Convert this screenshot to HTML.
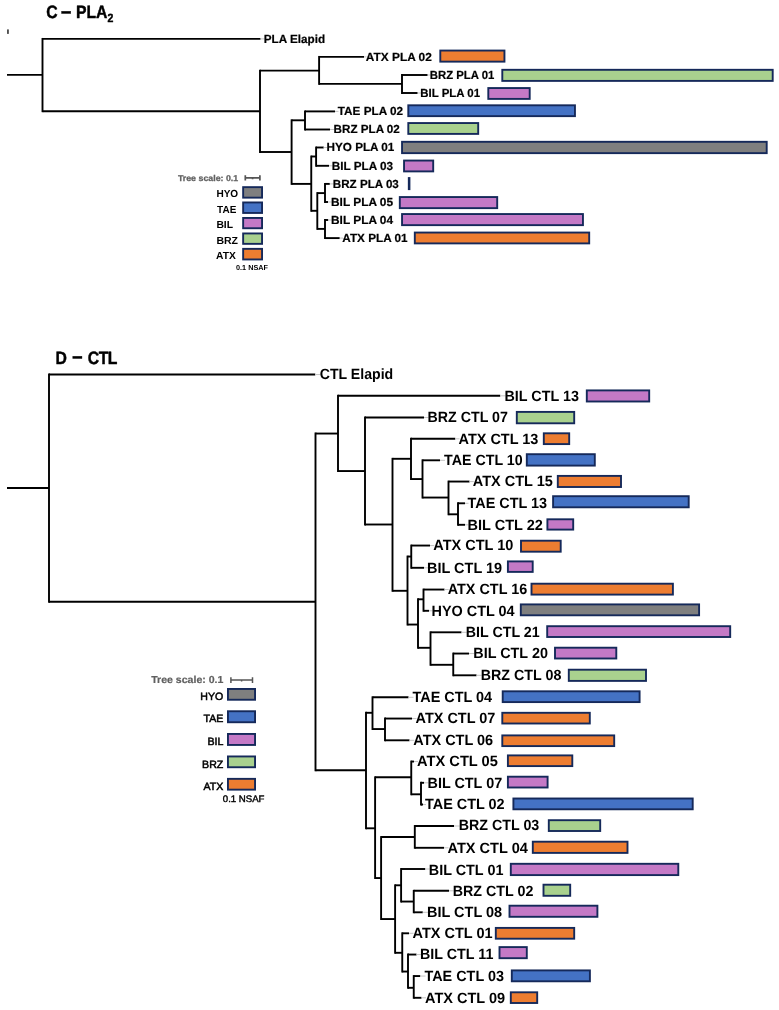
<!DOCTYPE html>
<html lang="en">
<head>
<meta charset="utf-8">
<title>Phylogenetic trees: PLA2 and CTL</title>
<style>
html,body{margin:0;padding:0;background:#fff;}
body{width:779px;height:1010px;overflow:hidden;font-family:"Liberation Sans", sans-serif;}
svg{display:block;}
</style>
</head>
<body>
<svg width="779" height="1010" viewBox="0 0 779 1010">
<rect width="779" height="1010" fill="#fff"/>
<g fill="none" stroke="#000" stroke-linecap="square">
<path d="M7.00 74.90H42.50" stroke-width="1.9" stroke-linecap="butt"/>
<path d="M42.50 38.90H260.50" stroke-width="1.9" stroke-linecap="butt"/>
<path d="M42.50 111.20H260.00" stroke-width="1.9" stroke-linecap="butt"/>
<path d="M260.00 70.60H319.10" stroke-width="1.9" stroke-linecap="butt"/>
<path d="M319.10 56.90H364.00" stroke-width="1.9" stroke-linecap="butt"/>
<path d="M319.10 83.90H402.00" stroke-width="1.9" stroke-linecap="butt"/>
<path d="M402.00 75.00H427.60" stroke-width="1.9" stroke-linecap="butt"/>
<path d="M402.00 93.00H417.60" stroke-width="1.9" stroke-linecap="butt"/>
<path d="M260.00 152.00H291.60" stroke-width="1.9" stroke-linecap="butt"/>
<path d="M291.60 120.30H305.00" stroke-width="1.9" stroke-linecap="butt"/>
<path d="M305.00 111.40H335.00" stroke-width="1.9" stroke-linecap="butt"/>
<path d="M305.00 129.50H330.00" stroke-width="1.9" stroke-linecap="butt"/>
<path d="M291.60 183.90H311.25" stroke-width="1.9" stroke-linecap="butt"/>
<path d="M311.25 156.50H316.10" stroke-width="1.9" stroke-linecap="butt"/>
<path d="M316.10 147.50H323.70" stroke-width="1.9" stroke-linecap="butt"/>
<path d="M316.10 165.80H329.00" stroke-width="1.9" stroke-linecap="butt"/>
<path d="M311.25 210.80H317.30" stroke-width="1.9" stroke-linecap="butt"/>
<path d="M317.30 193.10H325.00" stroke-width="1.9" stroke-linecap="butt"/>
<path d="M325.00 183.90H329.80" stroke-width="1.9" stroke-linecap="butt"/>
<path d="M325.00 202.00H328.00" stroke-width="1.9" stroke-linecap="butt"/>
<path d="M317.30 228.90H325.00" stroke-width="1.9" stroke-linecap="butt"/>
<path d="M325.00 220.00H328.20" stroke-width="1.9" stroke-linecap="butt"/>
<path d="M325.00 238.10H339.70" stroke-width="1.9" stroke-linecap="butt"/>
<path d="M42.50 38.90V111.20" stroke-width="1.9"/>
<path d="M260.00 70.60V152.00" stroke-width="1.9"/>
<path d="M319.10 56.90V83.90" stroke-width="1.9"/>
<path d="M402.00 75.00V93.00" stroke-width="1.9"/>
<path d="M291.60 120.30V183.90" stroke-width="1.9"/>
<path d="M305.00 111.40V129.50" stroke-width="1.9"/>
<path d="M311.25 156.50V210.80" stroke-width="1.9"/>
<path d="M316.10 147.50V165.80" stroke-width="1.9"/>
<path d="M317.30 193.10V228.90" stroke-width="1.9"/>
<path d="M325.00 183.90V202.00" stroke-width="1.9"/>
<path d="M325.00 220.00V238.10" stroke-width="1.9"/>
<path d="M7.00 488.05H49.00" stroke-width="1.9" stroke-linecap="butt"/>
<path d="M49.00 374.55H315.25" stroke-width="1.9" stroke-linecap="butt"/>
<path d="M49.00 601.80H315.50" stroke-width="1.9" stroke-linecap="butt"/>
<path d="M315.50 433.55H338.00" stroke-width="1.9" stroke-linecap="butt"/>
<path d="M338.00 395.80H500.25" stroke-width="1.9" stroke-linecap="butt"/>
<path d="M338.00 471.05H365.00" stroke-width="1.9" stroke-linecap="butt"/>
<path d="M365.00 417.50H424.00" stroke-width="1.9" stroke-linecap="butt"/>
<path d="M365.00 524.50H392.50" stroke-width="1.9" stroke-linecap="butt"/>
<path d="M392.50 458.80H411.00" stroke-width="1.9" stroke-linecap="butt"/>
<path d="M411.00 438.80H455.25" stroke-width="1.9" stroke-linecap="butt"/>
<path d="M411.00 479.05H422.50" stroke-width="1.9" stroke-linecap="butt"/>
<path d="M422.50 460.30H440.00" stroke-width="1.9" stroke-linecap="butt"/>
<path d="M422.50 497.55H448.50" stroke-width="1.9" stroke-linecap="butt"/>
<path d="M448.50 481.55H469.50" stroke-width="1.9" stroke-linecap="butt"/>
<path d="M448.50 514.30H458.00" stroke-width="1.9" stroke-linecap="butt"/>
<path d="M458.00 503.30H465.00" stroke-width="1.9" stroke-linecap="butt"/>
<path d="M458.00 524.80H465.00" stroke-width="1.9" stroke-linecap="butt"/>
<path d="M392.50 590.80H407.50" stroke-width="1.9" stroke-linecap="butt"/>
<path d="M407.50 556.55H411.25" stroke-width="1.9" stroke-linecap="butt"/>
<path d="M411.25 545.55H430.00" stroke-width="1.9" stroke-linecap="butt"/>
<path d="M411.25 567.80H424.00" stroke-width="1.9" stroke-linecap="butt"/>
<path d="M407.50 624.55H418.00" stroke-width="1.9" stroke-linecap="butt"/>
<path d="M418.00 599.30H423.50" stroke-width="1.9" stroke-linecap="butt"/>
<path d="M423.50 589.55H444.50" stroke-width="1.9" stroke-linecap="butt"/>
<path d="M423.50 610.80H429.00" stroke-width="1.9" stroke-linecap="butt"/>
<path d="M418.00 647.80H430.50" stroke-width="1.9" stroke-linecap="butt"/>
<path d="M430.50 632.30H461.50" stroke-width="1.9" stroke-linecap="butt"/>
<path d="M430.50 664.80H453.25" stroke-width="1.9" stroke-linecap="butt"/>
<path d="M453.25 653.55H469.00" stroke-width="1.9" stroke-linecap="butt"/>
<path d="M453.25 675.30H476.50" stroke-width="1.9" stroke-linecap="butt"/>
<path d="M315.50 770.30H366.00" stroke-width="1.9" stroke-linecap="butt"/>
<path d="M366.00 712.80H372.50" stroke-width="1.9" stroke-linecap="butt"/>
<path d="M372.50 697.30H408.50" stroke-width="1.9" stroke-linecap="butt"/>
<path d="M372.50 729.05H385.00" stroke-width="1.9" stroke-linecap="butt"/>
<path d="M385.00 718.55H412.00" stroke-width="1.9" stroke-linecap="butt"/>
<path d="M385.00 740.30H409.50" stroke-width="1.9" stroke-linecap="butt"/>
<path d="M366.00 828.30H375.10" stroke-width="1.9" stroke-linecap="butt"/>
<path d="M375.10 777.30H411.25" stroke-width="1.9" stroke-linecap="butt"/>
<path d="M411.25 761.55H414.00" stroke-width="1.9" stroke-linecap="butt"/>
<path d="M411.25 794.30H421.00" stroke-width="1.9" stroke-linecap="butt"/>
<path d="M421.00 782.80H424.00" stroke-width="1.9" stroke-linecap="butt"/>
<path d="M421.00 804.55H423.00" stroke-width="1.9" stroke-linecap="butt"/>
<path d="M375.10 878.05H381.10" stroke-width="1.9" stroke-linecap="butt"/>
<path d="M381.10 837.05H414.80" stroke-width="1.9" stroke-linecap="butt"/>
<path d="M414.80 826.00H454.00" stroke-width="1.9" stroke-linecap="butt"/>
<path d="M414.80 847.80H444.00" stroke-width="1.9" stroke-linecap="butt"/>
<path d="M381.10 919.05H395.10" stroke-width="1.9" stroke-linecap="butt"/>
<path d="M395.10 885.30H401.10" stroke-width="1.9" stroke-linecap="butt"/>
<path d="M401.10 869.00H425.25" stroke-width="1.9" stroke-linecap="butt"/>
<path d="M401.10 901.55H413.75" stroke-width="1.9" stroke-linecap="butt"/>
<path d="M413.75 890.80H449.00" stroke-width="1.9" stroke-linecap="butt"/>
<path d="M413.75 912.30H422.75" stroke-width="1.9" stroke-linecap="butt"/>
<path d="M395.10 952.80H402.25" stroke-width="1.9" stroke-linecap="butt"/>
<path d="M402.25 933.30H409.00" stroke-width="1.9" stroke-linecap="butt"/>
<path d="M402.25 971.55H408.00" stroke-width="1.9" stroke-linecap="butt"/>
<path d="M408.00 954.55H416.50" stroke-width="1.9" stroke-linecap="butt"/>
<path d="M408.00 987.80H413.75" stroke-width="1.9" stroke-linecap="butt"/>
<path d="M413.75 976.05H420.25" stroke-width="1.9" stroke-linecap="butt"/>
<path d="M413.75 997.80H421.50" stroke-width="1.9" stroke-linecap="butt"/>
<path d="M49.00 374.55V601.80" stroke-width="1.9"/>
<path d="M315.50 433.55V770.30" stroke-width="1.9"/>
<path d="M338.00 395.80V471.05" stroke-width="1.9"/>
<path d="M365.00 417.50V524.50" stroke-width="1.9"/>
<path d="M392.50 458.80V590.80" stroke-width="1.9"/>
<path d="M411.00 438.80V479.05" stroke-width="1.9"/>
<path d="M422.50 460.30V497.55" stroke-width="1.9"/>
<path d="M448.50 481.55V514.30" stroke-width="1.9"/>
<path d="M458.00 503.30V524.80" stroke-width="1.9"/>
<path d="M407.50 556.55V624.55" stroke-width="1.9"/>
<path d="M411.25 545.55V567.80" stroke-width="1.9"/>
<path d="M418.00 599.30V647.80" stroke-width="1.9"/>
<path d="M423.50 589.55V610.80" stroke-width="1.9"/>
<path d="M430.50 632.30V664.80" stroke-width="1.9"/>
<path d="M453.25 653.55V675.30" stroke-width="1.9"/>
<path d="M366.00 712.80V828.30" stroke-width="1.9"/>
<path d="M372.50 697.30V729.05" stroke-width="1.9"/>
<path d="M385.00 718.55V740.30" stroke-width="1.9"/>
<path d="M375.10 777.30V878.05" stroke-width="1.9"/>
<path d="M411.25 761.55V794.30" stroke-width="1.9"/>
<path d="M421.00 782.80V804.55" stroke-width="1.9"/>
<path d="M381.10 837.05V919.05" stroke-width="1.9"/>
<path d="M414.80 826.00V847.80" stroke-width="1.9"/>
<path d="M395.10 885.30V952.80" stroke-width="1.9"/>
<path d="M401.10 869.00V901.55" stroke-width="1.9"/>
<path d="M413.75 890.80V912.30" stroke-width="1.9"/>
<path d="M402.25 933.30V971.55" stroke-width="1.9"/>
<path d="M408.00 954.55V987.80" stroke-width="1.9"/>
<path d="M413.75 976.05V997.80" stroke-width="1.9"/>
</g>
<g fill="none" stroke="#c4c4c4" stroke-width="1">
<path d="M260.50 38.90H264.50"/>
<path d="M364.00 56.90H366.50"/>
<path d="M427.60 75.00H430.50"/>
<path d="M417.60 93.00H421.00"/>
<path d="M335.00 111.40H338.50"/>
<path d="M330.00 129.50H334.25"/>
<path d="M323.70 147.50H327.25"/>
<path d="M329.00 165.80H332.50"/>
<path d="M329.80 183.90H333.50"/>
<path d="M328.00 202.00H331.70"/>
<path d="M328.20 220.00H331.70"/>
<path d="M339.70 238.10H343.00"/>
<path d="M315.25 374.55H320.70"/>
<path d="M500.25 395.80H505.50"/>
<path d="M424.00 417.50H428.50"/>
<path d="M455.25 438.80H459.50"/>
<path d="M440.00 460.30H445.00"/>
<path d="M469.50 481.55H473.75"/>
<path d="M465.00 503.30H468.50"/>
<path d="M465.00 524.80H468.50"/>
<path d="M430.00 545.55H434.25"/>
<path d="M424.00 567.80H428.00"/>
<path d="M444.50 589.55H448.75"/>
<path d="M429.00 610.80H432.50"/>
<path d="M461.50 632.30H466.75"/>
<path d="M469.00 653.55H474.25"/>
<path d="M476.50 675.30H481.75"/>
<path d="M408.50 697.30H413.50"/>
<path d="M412.00 718.55H416.50"/>
<path d="M409.50 740.30H414.25"/>
<path d="M414.00 761.55H418.00"/>
<path d="M424.00 782.80H428.50"/>
<path d="M423.00 804.55H426.00"/>
<path d="M454.00 826.00H459.75"/>
<path d="M444.00 847.80H448.50"/>
<path d="M425.25 869.00H429.75"/>
<path d="M449.00 890.80H453.75"/>
<path d="M422.75 912.30H428.00"/>
<path d="M409.00 933.30H413.50"/>
<path d="M416.50 954.55H421.00"/>
<path d="M420.25 976.05H425.50"/>
<path d="M421.50 997.80H426.00"/>
</g>
<g>
<rect x="440.30" y="50.55" width="64.15" height="11.10" fill="#ED7D31" stroke="#15295A" stroke-width="1.9"/>
<rect x="502.30" y="69.80" width="270.40" height="11.10" fill="#A9D18E" stroke="#15295A" stroke-width="1.9"/>
<rect x="488.30" y="88.05" width="41.40" height="10.85" fill="#C479C6" stroke="#15295A" stroke-width="1.9"/>
<rect x="408.30" y="105.30" width="166.65" height="10.85" fill="#4472C4" stroke="#15295A" stroke-width="1.9"/>
<rect x="408.30" y="123.05" width="69.90" height="10.85" fill="#A9D18E" stroke="#15295A" stroke-width="1.9"/>
<rect x="402.05" y="141.80" width="364.65" height="11.35" fill="#7F7F7F" stroke="#15295A" stroke-width="1.9"/>
<rect x="404.05" y="160.55" width="29.15" height="10.85" fill="#C479C6" stroke="#15295A" stroke-width="1.9"/>
<rect x="407.85" y="177.10" width="2.55" height="13.00" fill="#15295A"/>
<rect x="399.80" y="197.05" width="97.40" height="11.10" fill="#C479C6" stroke="#15295A" stroke-width="1.9"/>
<rect x="402.05" y="214.05" width="180.90" height="11.10" fill="#C479C6" stroke="#15295A" stroke-width="1.9"/>
<rect x="414.80" y="232.55" width="174.40" height="10.85" fill="#ED7D31" stroke="#15295A" stroke-width="1.9"/>
<rect x="586.80" y="390.40" width="62.40" height="11.10" fill="#C479C6" stroke="#15295A" stroke-width="1.9"/>
<rect x="516.80" y="411.90" width="57.40" height="11.40" fill="#A9D18E" stroke="#15295A" stroke-width="1.9"/>
<rect x="543.80" y="433.30" width="25.40" height="10.80" fill="#ED7D31" stroke="#15295A" stroke-width="1.9"/>
<rect x="526.80" y="454.20" width="68.00" height="11.40" fill="#4472C4" stroke="#15295A" stroke-width="1.9"/>
<rect x="557.80" y="475.90" width="63.20" height="11.10" fill="#ED7D31" stroke="#15295A" stroke-width="1.9"/>
<rect x="553.10" y="496.20" width="135.60" height="11.10" fill="#4472C4" stroke="#15295A" stroke-width="1.9"/>
<rect x="547.40" y="519.30" width="25.80" height="10.30" fill="#C479C6" stroke="#15295A" stroke-width="1.9"/>
<rect x="521.00" y="540.70" width="39.70" height="11.00" fill="#ED7D31" stroke="#15295A" stroke-width="1.9"/>
<rect x="507.90" y="561.40" width="24.80" height="10.50" fill="#C479C6" stroke="#15295A" stroke-width="1.9"/>
<rect x="531.50" y="583.70" width="141.40" height="10.90" fill="#ED7D31" stroke="#15295A" stroke-width="1.9"/>
<rect x="520.80" y="604.40" width="178.30" height="10.90" fill="#7F7F7F" stroke="#15295A" stroke-width="1.9"/>
<rect x="547.20" y="626.20" width="183.00" height="10.80" fill="#C479C6" stroke="#15295A" stroke-width="1.9"/>
<rect x="555.00" y="647.70" width="61.30" height="10.80" fill="#C479C6" stroke="#15295A" stroke-width="1.9"/>
<rect x="568.80" y="669.70" width="77.20" height="11.20" fill="#A9D18E" stroke="#15295A" stroke-width="1.9"/>
<rect x="502.70" y="691.30" width="136.90" height="10.80" fill="#4472C4" stroke="#15295A" stroke-width="1.9"/>
<rect x="502.30" y="712.80" width="87.50" height="10.70" fill="#ED7D31" stroke="#15295A" stroke-width="1.9"/>
<rect x="502.30" y="735.40" width="111.90" height="10.70" fill="#ED7D31" stroke="#15295A" stroke-width="1.9"/>
<rect x="507.90" y="755.40" width="64.40" height="10.70" fill="#ED7D31" stroke="#15295A" stroke-width="1.9"/>
<rect x="507.90" y="776.70" width="39.70" height="10.80" fill="#C479C6" stroke="#15295A" stroke-width="1.9"/>
<rect x="513.40" y="798.50" width="179.30" height="10.80" fill="#4472C4" stroke="#15295A" stroke-width="1.9"/>
<rect x="548.80" y="820.20" width="51.40" height="10.80" fill="#A9D18E" stroke="#15295A" stroke-width="1.9"/>
<rect x="532.80" y="841.70" width="94.70" height="11.20" fill="#ED7D31" stroke="#15295A" stroke-width="1.9"/>
<rect x="510.80" y="863.80" width="167.50" height="11.30" fill="#C479C6" stroke="#15295A" stroke-width="1.9"/>
<rect x="543.50" y="884.70" width="26.70" height="11.10" fill="#A9D18E" stroke="#15295A" stroke-width="1.9"/>
<rect x="509.50" y="905.70" width="87.90" height="11.10" fill="#C479C6" stroke="#15295A" stroke-width="1.9"/>
<rect x="495.80" y="927.90" width="78.40" height="10.80" fill="#ED7D31" stroke="#15295A" stroke-width="1.9"/>
<rect x="499.50" y="947.10" width="27.30" height="11.10" fill="#C479C6" stroke="#15295A" stroke-width="1.9"/>
<rect x="511.80" y="970.40" width="78.10" height="10.90" fill="#4472C4" stroke="#15295A" stroke-width="1.9"/>
<rect x="510.80" y="992.30" width="26.40" height="10.70" fill="#ED7D31" stroke="#15295A" stroke-width="1.9"/>
</g>
<g font-family='"Liberation Sans", sans-serif' text-rendering="geometricPrecision">
<text transform="scale(0.88 1)" y="18.4" font-size="17.9" font-weight="bold" stroke="#000" stroke-width="0.45" stroke-linejoin="round"><tspan x="52.50">C</tspan> <tspan x="69.20" y="18.0" font-size="21">–</tspan> <tspan x="86.31" y="18.4">PLA</tspan><tspan font-size="12" x="122.16" y="22.4">2</tspan></text>
<text transform="scale(0.88 1)" y="363.8" font-size="17.9" font-weight="bold" stroke="#000" stroke-width="0.45" stroke-linejoin="round"><tspan x="62.95">D</tspan> <tspan x="82.05" y="363.4" font-size="21">–</tspan> <tspan x="99.66 112.16 122.39" y="363.8">CTL</tspan></text>
<text x="263.80" y="42.80" font-size="11.7" font-weight="bold" fill="#000" text-anchor="start" textLength="61.40" lengthAdjust="spacingAndGlyphs" stroke="#000" stroke-width="0.2">PLA Elapid</text>
<text x="365.80" y="60.80" font-size="11.7" font-weight="bold" fill="#000" text-anchor="start" textLength="66.05" lengthAdjust="spacingAndGlyphs" stroke="#000" stroke-width="0.2">ATX PLA 02</text>
<text x="429.80" y="78.90" font-size="11.7" font-weight="bold" fill="#000" text-anchor="start" textLength="64.55" lengthAdjust="spacingAndGlyphs" stroke="#000" stroke-width="0.2">BRZ PLA 01</text>
<text x="420.30" y="96.90" font-size="11.7" font-weight="bold" fill="#000" text-anchor="start" textLength="59.80" lengthAdjust="spacingAndGlyphs" stroke="#000" stroke-width="0.2">BIL PLA 01</text>
<text x="337.80" y="115.30" font-size="11.7" font-weight="bold" fill="#000" text-anchor="start" textLength="65.30" lengthAdjust="spacingAndGlyphs" stroke="#000" stroke-width="0.2">TAE PLA 02</text>
<text x="333.55" y="133.40" font-size="11.7" font-weight="bold" fill="#000" text-anchor="start" textLength="66.30" lengthAdjust="spacingAndGlyphs" stroke="#000" stroke-width="0.2">BRZ PLA 02</text>
<text x="326.55" y="151.40" font-size="11.7" font-weight="bold" fill="#000" text-anchor="start" textLength="67.80" lengthAdjust="spacingAndGlyphs" stroke="#000" stroke-width="0.2">HYO PLA 01</text>
<text x="331.80" y="169.70" font-size="11.7" font-weight="bold" fill="#000" text-anchor="start" textLength="61.30" lengthAdjust="spacingAndGlyphs" stroke="#000" stroke-width="0.2">BIL PLA 03</text>
<text x="332.80" y="187.80" font-size="11.7" font-weight="bold" fill="#000" text-anchor="start" textLength="66.05" lengthAdjust="spacingAndGlyphs" stroke="#000" stroke-width="0.2">BRZ PLA 03</text>
<text x="331.00" y="205.90" font-size="11.7" font-weight="bold" fill="#000" text-anchor="start" textLength="62.10" lengthAdjust="spacingAndGlyphs" stroke="#000" stroke-width="0.2">BIL PLA 05</text>
<text x="331.00" y="223.90" font-size="11.7" font-weight="bold" fill="#000" text-anchor="start" textLength="62.10" lengthAdjust="spacingAndGlyphs" stroke="#000" stroke-width="0.2">BIL PLA 04</text>
<text x="342.30" y="242.00" font-size="11.7" font-weight="bold" fill="#000" text-anchor="start" textLength="65.30" lengthAdjust="spacingAndGlyphs" stroke="#000" stroke-width="0.2">ATX PLA 01</text>
<text x="319.70" y="379.25" font-size="14.8" font-weight="bold" fill="#000" text-anchor="start" textLength="73.50" lengthAdjust="spacingAndGlyphs">CTL Elapid</text>
<text x="504.50" y="400.50" font-size="14.8" font-weight="bold" fill="#000" text-anchor="start" textLength="74.40" lengthAdjust="spacingAndGlyphs">BIL CTL 13</text>
<text x="427.50" y="422.20" font-size="14.8" font-weight="bold" fill="#000" text-anchor="start" textLength="80.40" lengthAdjust="spacingAndGlyphs">BRZ CTL 07</text>
<text x="458.50" y="443.50" font-size="14.8" font-weight="bold" fill="#000" text-anchor="start" textLength="79.90" lengthAdjust="spacingAndGlyphs">ATX CTL 13</text>
<text x="444.00" y="465.00" font-size="14.8" font-weight="bold" fill="#000" text-anchor="start" textLength="78.65" lengthAdjust="spacingAndGlyphs">TAE CTL 10</text>
<text x="472.75" y="486.25" font-size="14.8" font-weight="bold" fill="#000" text-anchor="start" textLength="80.15" lengthAdjust="spacingAndGlyphs">ATX CTL 15</text>
<text x="467.50" y="508.00" font-size="14.8" font-weight="bold" fill="#000" text-anchor="start" textLength="79.65" lengthAdjust="spacingAndGlyphs">TAE CTL 13</text>
<text x="467.50" y="529.50" font-size="14.8" font-weight="bold" fill="#000" text-anchor="start" textLength="75.40" lengthAdjust="spacingAndGlyphs">BIL CTL 22</text>
<text x="433.25" y="550.25" font-size="14.8" font-weight="bold" fill="#000" text-anchor="start" textLength="80.15" lengthAdjust="spacingAndGlyphs">ATX CTL 10</text>
<text x="427.00" y="572.50" font-size="14.8" font-weight="bold" fill="#000" text-anchor="start" textLength="75.15" lengthAdjust="spacingAndGlyphs">BIL CTL 19</text>
<text x="447.75" y="594.25" font-size="14.8" font-weight="bold" fill="#000" text-anchor="start" textLength="79.40" lengthAdjust="spacingAndGlyphs">ATX CTL 16</text>
<text x="431.50" y="615.50" font-size="14.8" font-weight="bold" fill="#000" text-anchor="start" textLength="83.15" lengthAdjust="spacingAndGlyphs">HYO CTL 04</text>
<text x="465.75" y="637.00" font-size="14.8" font-weight="bold" fill="#000" text-anchor="start" textLength="73.90" lengthAdjust="spacingAndGlyphs">BIL CTL 21</text>
<text x="473.25" y="658.25" font-size="14.8" font-weight="bold" fill="#000" text-anchor="start" textLength="74.65" lengthAdjust="spacingAndGlyphs">BIL CTL 20</text>
<text x="480.75" y="680.00" font-size="14.8" font-weight="bold" fill="#000" text-anchor="start" textLength="80.65" lengthAdjust="spacingAndGlyphs">BRZ CTL 08</text>
<text x="412.50" y="702.00" font-size="14.8" font-weight="bold" fill="#000" text-anchor="start" textLength="79.65" lengthAdjust="spacingAndGlyphs">TAE CTL 04</text>
<text x="415.50" y="723.25" font-size="14.8" font-weight="bold" fill="#000" text-anchor="start" textLength="79.90" lengthAdjust="spacingAndGlyphs">ATX CTL 07</text>
<text x="413.25" y="745.00" font-size="14.8" font-weight="bold" fill="#000" text-anchor="start" textLength="79.90" lengthAdjust="spacingAndGlyphs">ATX CTL 06</text>
<text x="417.00" y="766.25" font-size="14.8" font-weight="bold" fill="#000" text-anchor="start" textLength="80.90" lengthAdjust="spacingAndGlyphs">ATX CTL 05</text>
<text x="427.50" y="787.50" font-size="14.8" font-weight="bold" fill="#000" text-anchor="start" textLength="74.65" lengthAdjust="spacingAndGlyphs">BIL CTL 07</text>
<text x="425.00" y="809.25" font-size="14.8" font-weight="bold" fill="#000" text-anchor="start" textLength="79.65" lengthAdjust="spacingAndGlyphs">TAE CTL 02</text>
<text x="458.75" y="830.00" font-size="14.8" font-weight="bold" fill="#000" text-anchor="start" textLength="80.55" lengthAdjust="spacingAndGlyphs">BRZ CTL 03</text>
<text x="447.50" y="852.50" font-size="14.8" font-weight="bold" fill="#000" text-anchor="start" textLength="80.40" lengthAdjust="spacingAndGlyphs">ATX CTL 04</text>
<text x="428.75" y="874.50" font-size="14.8" font-weight="bold" fill="#000" text-anchor="start" textLength="74.65" lengthAdjust="spacingAndGlyphs">BIL CTL 01</text>
<text x="452.75" y="895.50" font-size="14.8" font-weight="bold" fill="#000" text-anchor="start" textLength="80.65" lengthAdjust="spacingAndGlyphs">BRZ CTL 02</text>
<text x="427.00" y="917.00" font-size="14.8" font-weight="bold" fill="#000" text-anchor="start" textLength="75.15" lengthAdjust="spacingAndGlyphs">BIL CTL 08</text>
<text x="412.50" y="938.00" font-size="14.8" font-weight="bold" fill="#000" text-anchor="start" textLength="80.15" lengthAdjust="spacingAndGlyphs">ATX CTL 01</text>
<text x="420.00" y="959.25" font-size="14.8" font-weight="bold" fill="#000" text-anchor="start" textLength="73.40" lengthAdjust="spacingAndGlyphs">BIL CTL 11</text>
<text x="424.50" y="980.75" font-size="14.8" font-weight="bold" fill="#000" text-anchor="start" textLength="79.40" lengthAdjust="spacingAndGlyphs">TAE CTL 03</text>
<text x="425.00" y="1002.50" font-size="14.8" font-weight="bold" fill="#000" text-anchor="start" textLength="80.15" lengthAdjust="spacingAndGlyphs">ATX CTL 09</text>
<text x="177.90" y="180.80" font-size="8.4" font-weight="bold" fill="#606060" text-anchor="start" textLength="60.30" lengthAdjust="spacingAndGlyphs" stroke="#606060" stroke-width="0.25">Tree scale: 0.1</text>
<text x="216.40" y="197.10" font-size="10.3" font-weight="bold" fill="#000" text-anchor="start" textLength="21.80" lengthAdjust="spacingAndGlyphs">HYO</text>
<text x="217.10" y="212.80" font-size="10.3" font-weight="bold" fill="#000" text-anchor="start" textLength="19.20" lengthAdjust="spacingAndGlyphs">TAE</text>
<text x="216.40" y="228.00" font-size="10.3" font-weight="bold" fill="#000" text-anchor="start" textLength="16.70" lengthAdjust="spacingAndGlyphs">BIL</text>
<text x="216.40" y="243.60" font-size="10.3" font-weight="bold" fill="#000" text-anchor="start" textLength="21.60" lengthAdjust="spacingAndGlyphs">BRZ</text>
<text x="216.10" y="259.40" font-size="10.3" font-weight="bold" fill="#000" text-anchor="start" textLength="19.80" lengthAdjust="spacingAndGlyphs">ATX</text>
<text x="236.00" y="269.80" font-size="7.2" font-weight="bold" fill="#000" text-anchor="start" textLength="32.00" lengthAdjust="spacingAndGlyphs">0.1 NSAF</text>
<text x="151.20" y="682.80" font-size="10.2" font-weight="bold" fill="#606060" text-anchor="start" textLength="72.20" lengthAdjust="spacingAndGlyphs" stroke="#606060" stroke-width="0.2">Tree scale: 0.1</text>
<text x="223.30" y="699.60" font-size="10.6" font-weight="normal" fill="#000" text-anchor="end" stroke="#000" stroke-width="0.5">HYO</text>
<text x="223.30" y="722.20" font-size="10.6" font-weight="normal" fill="#000" text-anchor="end" stroke="#000" stroke-width="0.5">TAE</text>
<text x="223.30" y="745.20" font-size="10.6" font-weight="normal" fill="#000" text-anchor="end" stroke="#000" stroke-width="0.5">BIL</text>
<text x="223.30" y="767.80" font-size="10.6" font-weight="normal" fill="#000" text-anchor="end" stroke="#000" stroke-width="0.5">BRZ</text>
<text x="223.30" y="790.40" font-size="10.6" font-weight="normal" fill="#000" text-anchor="end" stroke="#000" stroke-width="0.5">ATX</text>
<text x="222.80" y="801.70" font-size="9.5" font-weight="normal" fill="#000" text-anchor="start" textLength="41.70" lengthAdjust="spacingAndGlyphs" stroke="#000" stroke-width="0.4">0.1 NSAF</text>
</g>
<rect x="243.15" y="187.15" width="18.90" height="10.50" fill="#7F7F7F" stroke="#15295A" stroke-width="1.9"/>
<rect x="243.15" y="202.45" width="18.90" height="10.50" fill="#4472C4" stroke="#15295A" stroke-width="1.9"/>
<rect x="243.15" y="217.95" width="18.90" height="10.30" fill="#C479C6" stroke="#15295A" stroke-width="1.9"/>
<rect x="243.15" y="233.45" width="18.90" height="10.40" fill="#A9D18E" stroke="#15295A" stroke-width="1.9"/>
<rect x="243.15" y="248.85" width="18.90" height="10.60" fill="#ED7D31" stroke="#15295A" stroke-width="1.9"/>
<rect x="227.95" y="688.95" width="27.10" height="10.80" fill="#7F7F7F" stroke="#15295A" stroke-width="1.9"/>
<rect x="227.95" y="711.25" width="27.10" height="11.00" fill="#4472C4" stroke="#15295A" stroke-width="1.9"/>
<rect x="227.95" y="733.95" width="27.10" height="11.00" fill="#C479C6" stroke="#15295A" stroke-width="1.9"/>
<rect x="227.95" y="756.45" width="27.10" height="10.80" fill="#A9D18E" stroke="#15295A" stroke-width="1.9"/>
<rect x="227.95" y="778.85" width="27.10" height="10.80" fill="#ED7D31" stroke="#15295A" stroke-width="1.9"/>
<g fill="none" stroke="#555" stroke-width="1.5"><path d="M244.6 177.8H260.6M245.3 175.2V180.4M259.9 175.2V180.4M252.6 177.8V179.2" stroke-width="1.7"/><path d="M230.2 680.1H253.2M230.9 677.2V683M252.5 677.2V683M241.6 680.1V681.4" stroke-width="1.5"/></g>
<rect x="7.15" y="29.4" width="1.6" height="4.5" fill="#333"/>
</svg>
</body>
</html>
